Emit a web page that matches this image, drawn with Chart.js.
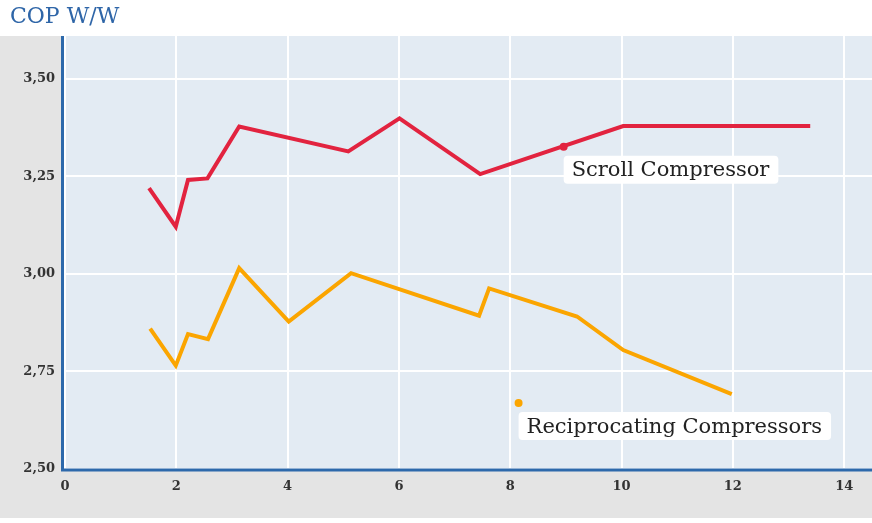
<!DOCTYPE html>
<html>
<head>
<meta charset="utf-8">
<script src="https://cdn.jsdelivr.net/npm/chart.js@4.4.1/dist/chart.umd.min.js"></script>
<style>
  html, body { margin: 0; padding: 0; background: #fff; }
  canvas { display: block; }
</style>
</head>
<body>
<canvas id="copChart" width="872" height="523"></canvas>
<script>
// --- data ---
const xTicks = [0, 2, 4, 6, 8, 10, 12, 14];
const yTicks = [2.5, 2.75, 3.0, 3.25, 3.5];
const yTickLabels = ['2,50', '2,75', '3,00', '3,25', '3,50'];

const scrollX = [1.51, 1.99, 2.21, 2.56, 3.13, 5.09, 6.01, 7.46, 10.03, 13.39];
const scrollY = [3.22, 3.121, 3.241, 3.245, 3.378, 3.314, 3.399, 3.256, 3.379, 3.379];

const recipX = [1.53, 1.99, 2.21, 2.57, 3.13, 4.02, 5.14, 7.44, 7.62, 9.20, 10.03, 11.98];
const recipY = [2.86, 2.765, 2.846, 2.833, 3.015, 2.878, 3.002, 2.893, 2.963, 2.891, 2.805, 2.692];

const labelText = ['Scroll Compressor', 'Reciprocating Compressors'];
const pointerX = [8.96, 8.15];
const pointerY = [3.326, 2.669];

const RED = '#e2233f';
const ORANGE = '#fba500';
const AXIS_BLUE = '#2d69ab';
const SERIF = '"DejaVu Serif", serif';

const toPoints = (xs, ys) => xs.map((x, i) => ({ x, y: ys[i] }));

// --- backgrounds, axis lines, title, callouts ---
const decor = {
  id: 'decor',
  beforeDraw(chart) {
    const { ctx, chartArea: a, width } = chart;
    ctx.save();
    ctx.fillStyle = '#ffffff';
    ctx.fillRect(0, 0, width, chart.height);
    ctx.fillStyle = '#e4e4e4';
    ctx.fillRect(0, a.top, width, 518 - a.top);
    ctx.fillStyle = '#e3ebf3';
    ctx.fillRect(a.left, a.top, a.right - a.left, a.bottom - a.top);
    // title
    ctx.fillStyle = '#2f66a8';
    ctx.font = '22px ' + SERIF;
    ctx.textBaseline = 'alphabetic';
    ctx.fillText('COP W/W', 10, 23);
    ctx.restore();
  },
  afterDatasetsDraw(chart) {
    const { ctx, chartArea: a, scales } = chart;
    ctx.save();
    // axis lines
    ctx.strokeStyle = AXIS_BLUE;
    ctx.lineWidth = 3;
    ctx.beginPath();
    ctx.moveTo(a.left - 2.5, a.top);
    ctx.lineTo(a.left - 2.5, a.bottom + 1);
    ctx.lineTo(a.right, a.bottom + 1);
    ctx.stroke();
    // callout labels
    ctx.font = '21px ' + SERIF;
    ctx.textBaseline = 'middle';
    labelText.forEach((txt, i) => {
      const px = scales.x.getPixelForValue(pointerX[i]);
      const py = scales.y.getPixelForValue(pointerY[i]);
      const w = ctx.measureText(txt).width + 17;
      ctx.fillStyle = '#ffffff';
      ctx.beginPath();
      ctx.roundRect(px, py + 9, w, 28, 4);
      ctx.fill();
      ctx.fillStyle = '#222222';
      ctx.fillText(txt, px + 8, py + 24);
    });
    ctx.restore();
  }
};

const tickFont = { family: SERIF, size: 13, weight: 'bold' };

new Chart(document.getElementById('copChart'), {
  type: 'scatter',
  data: {
    datasets: [
      {
        label: 'Scroll Compressor',
        data: toPoints(scrollX, scrollY),
        showLine: true,
        borderColor: RED,
        borderWidth: 4,
        pointRadius: 0,
        tension: 0
      },
      {
        label: 'Reciprocating Compressors',
        data: toPoints(recipX, recipY),
        showLine: true,
        borderColor: ORANGE,
        borderWidth: 4,
        pointRadius: 0,
        tension: 0
      },
      {
        label: 'pointers',
        data: toPoints(pointerX, pointerY),
        showLine: false,
        pointRadius: 4,
        pointBorderWidth: 0,
        pointBackgroundColor: [RED, ORANGE]
      }
    ]
  },
  options: {
    responsive: false,
    animation: false,
    layout: { autoPadding: false, padding: { top: 36, left: 0, right: 0, bottom: 0 } },
    plugins: {
      legend: { display: false },
      tooltip: { enabled: false },
      title: { display: false }
    },
    scales: {
      x: {
        type: 'linear',
        min: 0,
        max: 14.5,
        afterBuildTicks: (scale) => { scale.ticks = xTicks.map(v => ({ value: v })); },
        afterFit: (scale) => {
          scale.height = 54;
          scale.paddingLeft = 0;
          scale.paddingRight = 0;
        },
        grid: { color: '#ffffff', lineWidth: 2, drawTicks: false },
        border: { display: false },
        ticks: {
          padding: 10,
          color: '#333333',
          font: tickFont,
          maxRotation: 0,
          callback: (v) => String(v)
        }
      },
      y: {
        type: 'linear',
        min: 2.5,
        max: 3.61,
        afterBuildTicks: (scale) => { scale.ticks = yTicks.map(v => ({ value: v })); },
        afterFit: (scale) => {
          scale.width = 65;
          scale.paddingTop = 0;
          scale.paddingBottom = 0;
        },
        grid: { color: '#ffffff', lineWidth: 2, drawTicks: false },
        border: { display: false },
        ticks: {
          padding: 10,
          color: '#333333',
          font: tickFont,
          callback: (v) => yTickLabels[yTicks.indexOf(v)]
        }
      }
    }
  },
  plugins: [decor]
});
</script>
</body>
</html>
